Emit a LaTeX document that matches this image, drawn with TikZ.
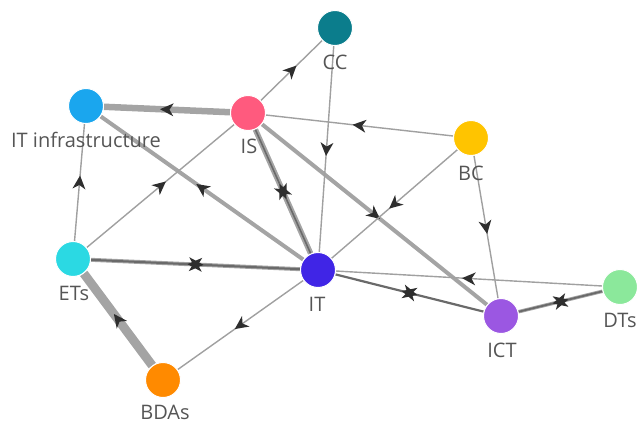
\documentclass[tikz,border=0pt]{standalone}
\usepackage{fontspec}
\setmainfont{Open Sans}
\usetikzlibrary{decorations.markings}
\pgfdeclarelayer{bg}
\pgfsetlayers{bg,main}
\definecolor{cCC}{HTML}{0B7D8C}
\definecolor{cITI}{HTML}{1AA6EE}
\definecolor{cIS}{HTML}{FF5A7E}
\definecolor{cBC}{HTML}{FFC400}
\definecolor{cETs}{HTML}{2BD9E3}
\definecolor{cIT}{HTML}{4025E6}
\definecolor{cBDA}{HTML}{FF8A00}
\definecolor{cICT}{HTML}{9B57E2}
\definecolor{cDT}{HTML}{8BE89B}
\definecolor{labelgray}{HTML}{555555}
\definecolor{arrowgray}{HTML}{2E2E2E}
\definecolor{edgegray}{HTML}{A4A4A4}
\definecolor{thingray}{HTML}{A0A0A0}
\definecolor{coregray}{HTML}{6A6A6A}
\tikzset{
  vtx/.style={circle, minimum size=35pt, inner sep=0pt, draw=white, line width=1pt, fill=#1},
  lbl/.style={anchor=base, text=labelgray, font=\fontsize{20}{24}\selectfont, inner sep=0pt},
  thinedge/.style={draw=thingray, line width=1.4pt},
  fwd/.style={postaction={decorate, decoration={markings, mark=at position 0.5 with {\fill[arrowgray] (7,0) -- (-6.5,6.5) -- (-2.5,0) -- (-6.5,-6.5) -- cycle;}}}},
  both/.style={postaction={decorate, decoration={markings, mark=at position 0.5 with {\fill[arrowgray] (8,0) -- (-6.5,7) -- (-2.5,0) -- (-6.5,-7) -- cycle; \fill[arrowgray] (-8,0) -- (6.5,7) -- (2.5,0) -- (6.5,-7) -- cycle;}}}},
}
\begin{document}
\begin{tikzpicture}[x=1pt,y=-1pt]
\useasboundingbox (0,0) rectangle (637,423);
% nodes
\node[vtx=cCC]  (CC)  at (335,28)  {};
\node[vtx=cITI] (ITI) at (86,106)  {};
\node[vtx=cIS]  (IS)  at (248,113) {};
\node[vtx=cBC]  (BC)  at (471,138) {};
\node[vtx=cETs] (ETs) at (73,259)  {};
\node[vtx=cIT]  (IT)  at (318,270) {};
\node[vtx=cBDA] (BDA) at (163,380) {};
\node[vtx=cICT] (ICT) at (501,316) {};
\node[vtx=cDT]  (DT)  at (620,287) {};
% labels
\node[lbl] (lCC)  at (335,69)  {CC};
\node[lbl] (lITI) at (86,147)  {IT infrastructure};
\node[lbl] (lIS)  at (249,153) {IS};
\node[lbl] (lBC)  at (471,180) {BC};
\node[lbl] (lETs) at (74,300)  {ETs};
\node[lbl] (lIT)  at (317,311) {IT};
\node[lbl] (lBDA) at (165,419) {BDAs};
\node[lbl] (lICT) at (502,357) {ICT};
\node[lbl] (lDT)  at (620,327) {DTs};
% edges
\begin{pgfonlayer}{bg}
\draw[draw=edgegray, line width=6.5pt, fwd] (IS) -- (ITI);
\draw[draw=edgegray, line width=9pt, fwd] (BDA) -- (ETs);
\draw[draw=edgegray, line width=4pt, fwd] (IS) -- (ICT);
\draw[draw=edgegray, line width=4pt, fwd] (IT) -- (ITI);
\draw[draw=edgegray, line width=5.5pt] (IS) -- (IT);
\draw[draw=coregray, line width=1.6pt, both] (IS) -- (IT);
\draw[draw=edgegray, line width=4pt] (ETs) -- (IT);
\draw[draw=coregray, line width=2pt, both] (ETs) -- (IT);
\draw[draw=coregray, line width=2.2pt, both] (IT) -- (ICT);
\draw[draw=edgegray, line width=3.5pt] (ICT) -- (DT);
\draw[draw=coregray, line width=1.8pt, both] (ICT) -- (DT);
\draw[thinedge, fwd] (IS) -- (CC);
\draw[thinedge, fwd] (BC) -- (IS);
\draw[thinedge, fwd] (CC) -- (IT);
\draw[thinedge, fwd] (BC) -- (IT);
\draw[thinedge, fwd] (BC) -- (ICT);
\draw[thinedge, fwd] (ETs) -- (ITI);
\draw[thinedge, fwd] (ETs) -- (IS);
\draw[thinedge, fwd] (IT) -- (BDA);
\draw[thinedge, fwd] (DT) -- (IT);
\end{pgfonlayer}
\end{tikzpicture}
\end{document}
